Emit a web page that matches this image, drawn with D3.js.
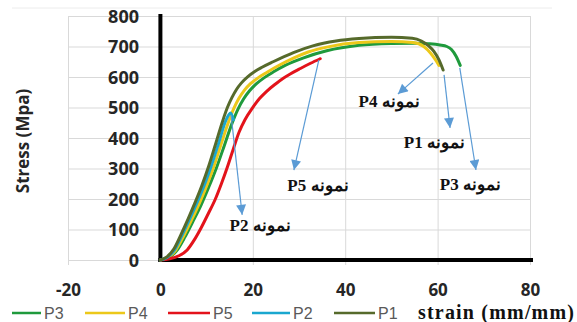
<!DOCTYPE html>
<html>
<head>
<meta charset="utf-8">
<script src="https://cdn.jsdelivr.net/npm/d3@7"></script>
<style>
  html, body { margin: 0; padding: 0; background: #fff; }
  svg { display: block; }
</style>
</head>
<body>
<svg id="chart" width="577" height="322"></svg>
<script>
// ---------- data ----------
const xTicks = [-20, 0, 20, 40, 60, 80];
const yTicks = [0, 100, 200, 300, 400, 500, 600, 700, 800];

const seriesNames = ["P3", "P4", "P5", "P2", "P1"];
const seriesColors = ["#1f9a3c", "#ecc81a", "#e3131b", "#1aa7cf", "#566a2b"];

const strainP3 = [0, 1.7, 3.5, 5.3, 7, 8.8, 10.5, 12.2, 13.9, 15.5, 16.8, 18, 19.3, 20.8, 22.5, 24.5, 27, 31, 36, 43, 50, 55, 58, 60.5, 62, 63, 64, 64.9];
const stressP3 = [0, 7, 30, 75, 125, 180, 240, 305, 378, 448, 495, 528, 555, 578, 598, 617, 638, 663, 686, 704, 710, 711, 709, 705, 700, 690, 668, 638];

const strainP4 = [0, 1.6, 3.3, 5, 6.7, 8.4, 10, 11.6, 13.2, 14.8, 15.9, 17, 18.2, 19.5, 21.2, 23, 25.9, 28.8, 32, 36, 43, 50, 54.7, 57, 58.5, 59.6, 60.3];
const stressP4 = [0, 8, 32, 78, 130, 185, 243, 308, 383, 455, 497, 530, 557, 578, 598, 615, 640, 662, 682, 698, 713, 716, 713, 700, 678, 655, 638];

const strainP5 = [0, 2, 4, 5.8, 7.3, 8.8, 10.3, 11.9, 13.2, 14.5, 15.8, 17, 18.3, 19.9, 21.5, 23, 25, 26.6, 28.1, 30.3, 32.5, 34.6];
const stressP5 = [0, 4, 14, 33, 65, 105, 150, 200, 250, 305, 365, 418, 460, 498, 530, 553, 578, 596, 610, 628, 645, 660];

const strainP2 = [0, 1.5, 3.1, 4.7, 6.3, 7.9, 9.5, 11, 12.6, 14.1, 15.2, 15.8];
const stressP2 = [0, 9, 34, 82, 133, 187, 245, 308, 383, 455, 482, 460];

const strainP1 = [0, 1.4, 2.9, 4.5, 6, 7.5, 9, 10.5, 12, 13.5, 14.5, 15.5, 16.5, 17.5, 19, 20.5, 22, 24.4, 28.8, 33, 38, 43, 50, 54.5, 56.5, 58, 59.2, 60.3, 61.2];
const stressP1 = [0, 10, 36, 85, 135, 188, 245, 310, 383, 457, 500, 533, 560, 580, 602, 619, 632, 650, 680, 702, 718, 726, 730, 727, 718, 703, 684, 656, 623];

// annotations (data units): arrow start, arrow tip, label anchor
const noteNames = ["P4", "P1", "P3", "P5", "P2"];
const noteFromStrain = [59.0, 61.4, 64.8, 34.3, 15.3];
const noteFromStress = [646, 607, 630, 656, 475];
const noteToStrain = [51.4, 62.7, 68.3, 28.9, 17.7];
const noteToStress = [544, 433, 295, 295, 148];
const noteLabelStrain = [49.5, 59.3, 67.1, 34.1, 21.6];
const noteLabelStress = [502, 367, 230, 226, 95];

// ---------- drawing ----------
const svg = d3.select("#chart");
const x = d3.scaleLinear().domain([-20, 80]).range([68, 530]);
const y = d3.scaleLinear().domain([0, 800]).range([260, 16]);

// faint outer border top
svg.append("line").attr("x1", 12).attr("x2", 552).attr("y1", 8).attr("y2", 8)
  .attr("stroke", "#ececec").attr("stroke-width", 1);

// grid
const grid = svg.append("g");
grid.selectAll("line.h").data(yTicks).join("line")
  .attr("x1", x(-20)).attr("x2", x(80))
  .attr("y1", d => y(d) + 0.5).attr("y2", d => y(d) + 0.5)
  .attr("stroke", "#d9d9d9").attr("stroke-width", 1);
grid.selectAll("line.v").data(xTicks.filter(d => d !== 0)).join("line")
  .attr("x1", d => x(d) + 0.5).attr("x2", d => x(d) + 0.5)
  .attr("y1", y(800)).attr("y2", y(0) + 5)
  .attr("stroke", "#d9d9d9").attr("stroke-width", 1);

// y axis labels
const yAxis = d3.axisLeft(y).tickValues(yTicks).tickSize(0).tickPadding(0).tickFormat(d => String(d));
const gy = svg.append("g").attr("transform", "translate(139,0)").call(yAxis);
gy.select(".domain").remove();
gy.selectAll("text")
  .attr("font-family", "'Open Sans', sans-serif").attr("font-weight", 700)
  .attr("font-size", 18).attr("fill", "#262626").attr("dy", "0.36em");

// x axis labels
const xAxis = d3.axisBottom(x).tickValues(xTicks).tickSize(0).tickPadding(0).tickFormat(d => String(d));
const gx = svg.append("g").attr("transform", "translate(0,284)").call(xAxis);
gx.select(".domain").remove();
gx.selectAll("text")
  .attr("font-family", "'Open Sans', sans-serif").attr("font-weight", 700)
  .attr("font-size", 17).attr("fill", "#262626").attr("dy", "0.71em");

// y axis title
svg.append("text")
  .attr("transform", "translate(29,141) rotate(-90)")
  .attr("text-anchor", "middle")
  .attr("font-family", "'Open Sans', sans-serif").attr("font-weight", 700)
  .attr("font-size", 17).attr("fill", "#262626")
  .text("Stress (Mpa)");

// thick axes
svg.append("line").attr("x1", x(0)).attr("x2", x(0)).attr("y1", y(800) - 2).attr("y2", y(0) + 2)
  .attr("stroke", "#000").attr("stroke-width", 4);
svg.append("line").attr("x1", x(0) - 2).attr("x2", x(80) + 3).attr("y1", y(0)).attr("y2", y(0))
  .attr("stroke", "#000").attr("stroke-width", 4);

// series
const strains = [strainP3, strainP4, strainP5, strainP2, strainP1];
const stresses = [stressP3, stressP4, stressP5, stressP2, stressP1];
const line = d3.line().x(d => x(d[0])).y(d => y(d[1])).curve(d3.curveMonotoneX);
seriesNames.forEach((name, i) => {
  const pts = strains[i].map((s, k) => [s, stresses[i][k]]);
  svg.append("path").datum(pts)
    .attr("d", line)
    .attr("fill", "none")
    .attr("stroke", seriesColors[i])
    .attr("stroke-width", 3)
    .attr("stroke-linejoin", "round")
    .attr("stroke-linecap", "round");
});

// arrows
const arrowColor = "#5b9bd5";
svg.append("defs").append("marker")
  .attr("id", "ah").attr("viewBox", "0 0 10 10")
  .attr("refX", 10).attr("refY", 5)
  .attr("markerWidth", 11).attr("markerHeight", 10)
  .attr("markerUnits", "userSpaceOnUse")
  .attr("orient", "auto")
  .append("path").attr("d", "M0,0 L10,5 L0,10 Z").attr("fill", arrowColor);

noteNames.forEach((n, i) => {
  svg.append("line")
    .attr("x1", x(noteFromStrain[i])).attr("y1", y(noteFromStress[i]))
    .attr("x2", x(noteToStrain[i])).attr("y2", y(noteToStress[i]))
    .attr("stroke", arrowColor).attr("stroke-width", 1.2)
    .attr("marker-end", "url(#ah)");
  svg.append("text")
    .attr("x", x(noteLabelStrain[i])).attr("y", y(noteLabelStress[i]))
    .attr("text-anchor", "middle")
    .attr("direction", "rtl")
    .attr("font-family", "'Liberation Serif', 'DejaVu Serif', serif")
    .attr("font-weight", 700).attr("font-size", 17).attr("fill", "#111")
    .text("نمونه " + n);
});

// legend
const legendLineX1 = [12, 85, 168, 252, 334];
const legendLineX2 = [41, 125, 210, 290, 375];
const lg = svg.append("g");
seriesNames.forEach((n, i) => {
  lg.append("line").attr("x1", legendLineX1[i]).attr("x2", legendLineX2[i])
    .attr("y1", 313).attr("y2", 313)
    .attr("stroke", seriesColors[i]).attr("stroke-width", 2.5);
  lg.append("text").attr("x", legendLineX2[i] + 3).attr("y", 319)
    .attr("font-family", "'Liberation Sans Narrow', 'Liberation Sans', sans-serif")
    .attr("font-size", 16).attr("fill", "#595959")
    .text(n);
});

// x axis title
svg.append("text")
  .attr("x", 418).attr("y", 319)
  .attr("font-family", "'Liberation Serif', serif")
  .attr("font-weight", 700).attr("font-size", 20).attr("fill", "#111")
  .attr("textLength", 156).attr("lengthAdjust", "spacing")
  .text("strain (mm/mm)");
</script>
</body>
</html>
